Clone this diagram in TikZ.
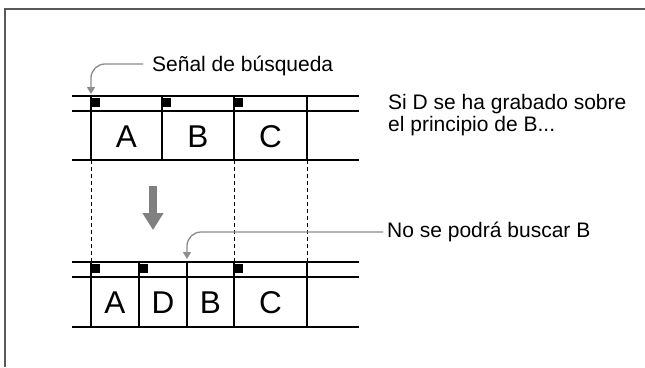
\documentclass[tikz,border=0pt]{standalone}
\usepackage{fontspec}
\setmainfont{Liberation Sans}
\usetikzlibrary{arrows.meta}
\begin{document}
\begin{tikzpicture}[x=1pt,y=-1pt,
  tape/.style={line width=1.7pt},
  sigmark/.style={fill=black},
  letter/.style={font=\fontsize{31.5}{31.5}\selectfont, inner sep=0pt},
  note/.style={font=\fontsize{21}{22}\selectfont, align=left, anchor=base west, inner xsep=3pt},
  callout/.style={draw=black!45, line width=1.3pt, rounded corners=14pt, -{Triangle[length=7pt,width=8pt]}},
  bigarrow/.style={draw=black!50, line width=8pt, -{Triangle[length=17pt,width=20pt]}}]
\useasboundingbox (0,0) rectangle (645,367);
% frame
\draw[black!65, line width=1.5pt] (5,367) -- (5,9) -- (645,9);

% tape before
\foreach \y in {96,111,160} \draw[tape] (72,\y) -- (359,\y);
\foreach \x in {91,162,234,307} \draw[tape] (\x,96) -- (\x,160);
\foreach \x in {91,162,234} \fill[sigmark] (\x+1,98) rectangle (\x+9,107);
\node[letter] (a1) at (126.5,137) {A};
\node[letter] (b1) at (198,137) {B};
\node[letter] (c1) at (270.5,137) {C};

% dashed guides
\foreach \x in {91,234,307} \draw[dashed, dash pattern=on 4pt off 3pt, line width=0.9pt] (\x,160) -- (\x,262);

% tape after
\foreach \y in {262,277,327} \draw[tape] (72,\y) -- (359,\y);
\foreach \x in {91,139,187,234,307} \draw[tape] (\x,262) -- (\x,327);
\foreach \x in {91,139,234} \fill[sigmark] (\x+1,264) rectangle (\x+9,273);
\node[letter] (a2) at (115,303) {A};
\node[letter] (d2) at (163,303) {D};
\node[letter] (b2) at (210.5,303) {B};
\node[letter] (c2) at (270.5,303) {C};

% arrow down
\coordinate (dtop) at (153,186);
\coordinate (dtip) at (153,230);
\draw[bigarrow] (dtop) -- (dtip);

% labels
\node[note, inner xsep=9pt] (senal) at (143,71) {Señal de búsqueda};
\coordinate (sigA) at (91,94);
\draw[callout] ([yshift=7pt]senal.base west) -| (sigA);

\node[note] (grabado) at (385,131) {Si D se ha grabado sobre\\el principio de B...};

\node[note, inner xsep=4pt] (nobusca) at (383,237) {No se podrá buscar B};
\coordinate (sigB) at (187,259);
\draw[callout] ([yshift=5pt]nobusca.base west) -| (sigB);
\end{tikzpicture}
\end{document}
